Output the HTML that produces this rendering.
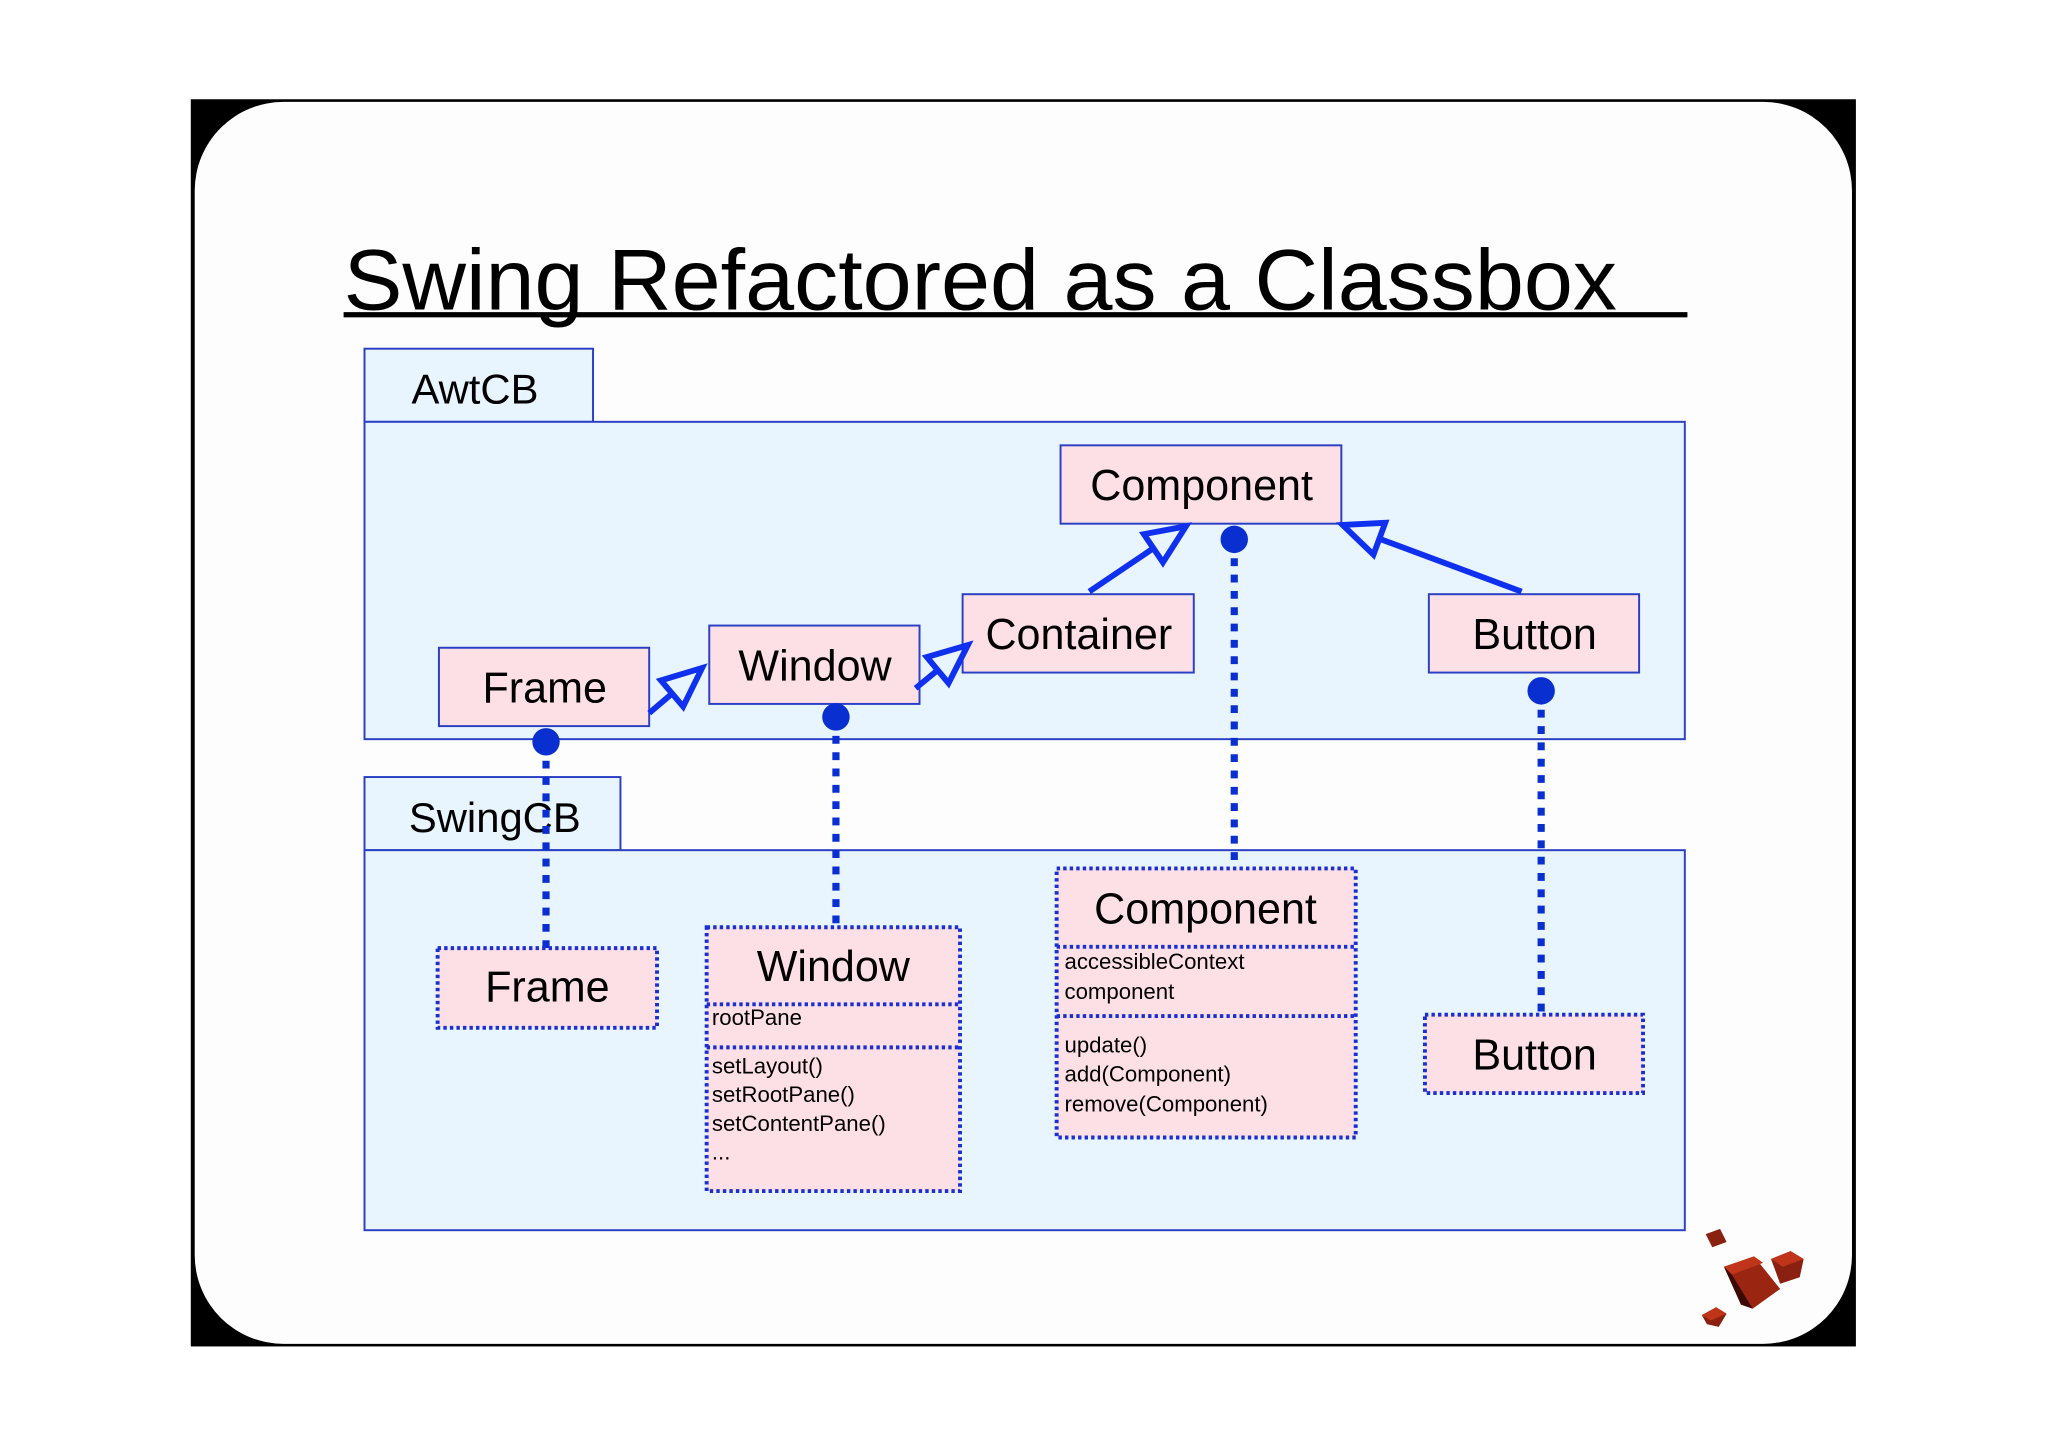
<!DOCTYPE html>
<html><head><meta charset="utf-8"><style>
html,body{margin:0;padding:0;background:#fff;}
svg{display:block;}
text{font-family:"Liberation Sans",sans-serif;fill:#000;}
</style></head><body>
<svg width="2048" height="1447" viewBox="0 0 1568 1108" xmlns="http://www.w3.org/2000/svg">
<rect x="0" y="0" width="1568" height="1108" fill="#fff"/>
<rect x="146" y="76" width="1275" height="955" fill="#000"/>
<rect x="149" y="78" width="1269" height="951" rx="68" ry="68" fill="#fdfdfd"/>
<text x="263" y="237" font-size="66" textLength="975" lengthAdjust="spacingAndGlyphs">Swing Refactored as a Classbox</text>
<rect x="263" y="239" width="1029" height="4" fill="#000"/>
<g stroke="#2a3fc4" stroke-width="1.5" fill="#e8f4fe">
<rect x="279" y="267" width="175" height="56"/>
<rect x="279" y="323" width="1011" height="243"/>
<rect x="279" y="595" width="196" height="56"/>
<rect x="279" y="651" width="1011" height="291"/>
</g>
<text x="315" y="309" font-size="32">AwtCB</text>
<text x="313" y="637" font-size="32">SwingCB</text>
<g stroke="#2a3fc4" stroke-width="1.5" fill="#fde0e6">
<rect x="812" y="341" width="215" height="60"/>
<rect x="737" y="455" width="177" height="60"/>
<rect x="1094" y="455" width="161" height="60"/>
<rect x="336" y="496" width="161" height="60"/>
<rect x="543" y="479" width="161" height="60"/>
</g>
<g font-size="33" text-anchor="middle">
<text x="920" y="383">Component</text>
<text x="826" y="497">Container</text>
<text x="1175" y="497">Button</text>
<text x="417" y="538">Frame</text>
<text x="624" y="521">Window</text>
</g>
<g stroke="#1030f0" stroke-width="4.5" fill="none" stroke-linejoin="miter">
<line x1="497" y1="546" x2="514.6" y2="531"/>
<polygon points="537.5,511.5 523,541 506,521"/>
<line x1="701" y1="527" x2="717.9" y2="513.1"/>
<polygon points="741,494 726.2,523.1 709.6,503.1"/>
<line x1="834" y1="453" x2="883.1" y2="419.8"/>
<polygon points="908,403 890.4,430.6 875.8,409"/>
<line x1="1165" y1="453" x2="1056.1" y2="412.5"/>
<polygon points="1028,402 1060.6,400.3 1051.6,424.7"/>
</g>
<g stroke="#0a2fd0" stroke-width="5.5" stroke-dasharray="6 6.5" fill="none">
<line x1="418" y1="570" x2="418" y2="726"/>
<line x1="640" y1="551" x2="640" y2="710"/>
<line x1="945" y1="415" x2="945" y2="665"/>
<line x1="1180" y1="531" x2="1180" y2="777"/>
</g>
<g fill="#0a2fd0">
<circle cx="418" cy="568" r="10.5"/>
<circle cx="640" cy="549" r="10.5"/>
<circle cx="945" cy="413" r="10.5"/>
<circle cx="1180" cy="529" r="10.5"/>
</g>
<g stroke="#1a30d0" stroke-width="3" stroke-dasharray="2.6 2.4" fill="#fde0e6">
<rect x="335" y="726" width="168" height="61"/>
<rect x="541" y="710" width="194" height="202"/>
<rect x="809" y="665" width="229" height="206"/>
<rect x="1091" y="777" width="167" height="60"/>
<line x1="541" y1="769" x2="735" y2="769"/>
<line x1="541" y1="802" x2="735" y2="802"/>
<line x1="809" y1="725" x2="1038" y2="725"/>
<line x1="809" y1="778" x2="1038" y2="778"/>
</g>
<g font-size="33" text-anchor="middle">
<text x="419" y="767">Frame</text>
<text x="638" y="751">Window</text>
<text x="923" y="707">Component</text>
<text x="1175" y="819">Button</text>
</g>
<g font-size="17">
<text x="545" y="785">rootPane</text>
<text x="545" y="822">setLayout()</text>
<text x="545" y="844">setRootPane()</text>
<text x="545" y="866">setContentPane()</text>
<text x="545" y="888">...</text>
<text x="815" y="742">accessibleContext</text>
<text x="815" y="765">component</text>
<text x="815" y="806">update()</text>
<text x="815" y="828">add(Component)</text>
<text x="815" y="851">remove(Component)</text>
</g>
<g>
<polygon points="1306,945 1317,941 1322,951 1311,955" fill="#8a2010"/>
<polygon points="1320,970 1343,962 1363,987 1342,1002 1333,999" fill="#9a2510"/>
<polygon points="1320,970 1343,962 1350,967 1326,976" fill="#c0351a"/>
<polygon points="1320,970 1326,976 1342,1002 1333,999" fill="#3a0a05"/>
<polygon points="1356,964 1371,958 1381,964 1378,978 1363,983" fill="#8a2010"/>
<polygon points="1356,964 1371,958 1381,964 1365,970" fill="#c0351a"/>
<polygon points="1303,1007 1314,1001 1322,1006 1316,1016 1307,1014" fill="#8a2010"/>
<polygon points="1303,1007 1314,1001 1322,1006 1310,1011" fill="#c0351a"/>
</g>
</svg>
</body></html>
